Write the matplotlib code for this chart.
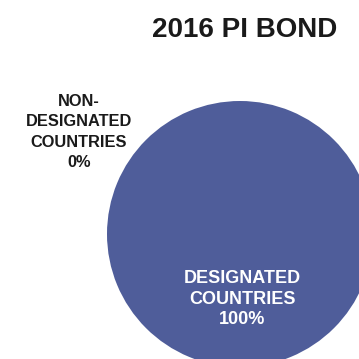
import matplotlib.pyplot as plt

# Data
categories = ['NON-\nDESIGNATED\nCOUNTRIES', 'DESIGNATED\nCOUNTRIES']
values = [0, 100]
colors = ['#C0504D', '#4F5D9A']
title = '2016 PI BOND'

plt.rcParams['font.family'] = ['Liberation Sans', 'DejaVu Sans']

fig = plt.figure(figsize=(3.59, 3.59), dpi=100)
ax = fig.add_axes([0, 0, 1, 1])

# Pie drawn in pixel-like coordinates (y down)
ax.pie(values, colors=colors, center=(240, 234), radius=133,
       startangle=90, counterclock=False, frame=False)
ax.set_xlim(0, 359)
ax.set_ylim(359, 0)
ax.set_aspect('equal')
ax.axis('off')

# Labels
ax.text(79, 132, f'{categories[0]}\n{values[0]}%', ha='center', va='center',
        fontsize=11.8, fontweight='bold', color='#1a1a1a', linespacing=1.45)
ax.text(242, 299, f'{categories[1]}\n{values[1]}%', ha='center', va='center',
        fontsize=13, fontweight='bold', color='white', linespacing=1.3)

# Title
ax.text(245, 30, title, ha='center', va='center',
        fontsize=20, fontweight='bold', color='#1a1a1a')

fig.savefig('out.png', dpi=100)
